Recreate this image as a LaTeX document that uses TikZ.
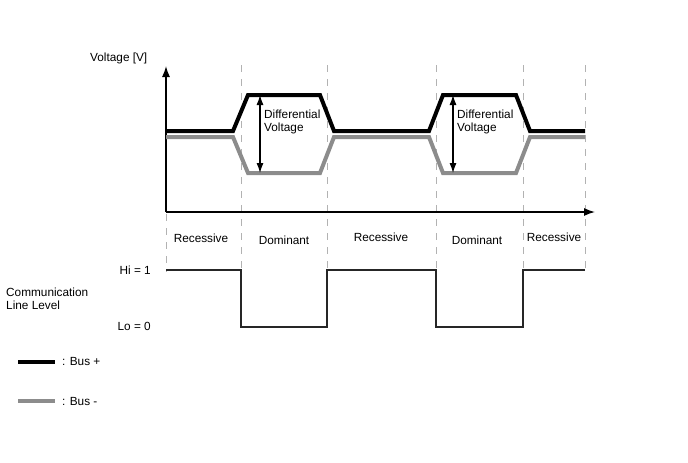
\documentclass[tikz,border=0pt]{standalone}
\usepackage{fontspec}
\setmainfont{Liberation Sans}
\usetikzlibrary{arrows.meta}
\begin{document}
\begin{tikzpicture}
[x=1pt,y=-1pt,
font=\fontsize{11.8}{13}\selectfont,
busplus/.style={line width=4pt,black},
busminus/.style={line width=4pt,black!45},
divider/.style={black!30,line width=0.9pt,dash pattern=on 7pt off 7pt},
levelline/.style={line width=1.3pt,black!85},
axis/.style={line width=1.3pt,-{Latex[length=11pt,width=8pt]}},
diffarrow/.style={line width=1.1pt,{Latex[length=10pt,width=7pt]}-{Latex[length=10pt,width=7pt]}},
lbl/.style={inner sep=0pt,align=left}
]
\useasboundingbox (0,0) rectangle (688,463);
\foreach \x in {241,327,436,523,585}
  \draw[divider] (\x,65) -- (\x,272);
\draw[divider] (166,214) -- (166,272);
\coordinate (origin) at (166,212);
\coordinate (ytip) at (166,66);
\coordinate (xtip) at (595,212);
\draw[axis] (origin) -- (ytip);
\draw[axis] (origin) -- (xtip);
\node[lbl,anchor=west] (vlabel) at (90,58) {Voltage [V]};
\draw[busminus] (166,137) -- (233,137) -- (248,173) -- (320,173) -- (334,137) -- (429,137) -- (443,173) -- (516,173) -- (530,137) -- (585,137);
\draw[busplus] (166,131) -- (233,131) -- (248,95) -- (320,95) -- (334,131) -- (429,131) -- (443,95) -- (516,95) -- (530,131) -- (585,131);
\coordinate (dvtopa) at (260,95);
\coordinate (dvbota) at (260,173);
\coordinate (dvtopb) at (453,95);
\coordinate (dvbotb) at (453,173);
\draw[diffarrow] (dvtopa) -- (dvbota);
\draw[diffarrow] (dvtopb) -- (dvbotb);
\node[lbl,anchor=north west] (dvtexta) at (264,110) {Differential\\Voltage};
\node[lbl,anchor=north west] (dvtextb) at (457,110) {Differential\\Voltage};
\node[lbl] (reca) at (201,238) {Recessive};
\node[lbl] (doma) at (284,240) {Dominant};
\node[lbl] (recb) at (381,237) {Recessive};
\node[lbl] (domb) at (477,240) {Dominant};
\node[lbl] (recc) at (554,237) {Recessive};
\node[lbl,anchor=east] (hi) at (151,270) {Hi = 1};
\node[lbl,anchor=east] (lo) at (151,326) {Lo = 0};
\node[lbl,anchor=west] (comm) at (6,299) {Communication\\Line Level};
\draw[levelline] (166,270) -- (241,270) -- (241,327) -- (327,327) -- (327,270) -- (436,270) -- (436,327) -- (523,327) -- (523,270) -- (585,270);
\coordinate (legplusa) at (18,362);
\coordinate (legplusb) at (55,362);
\coordinate (legminusa) at (18,401);
\coordinate (legminusb) at (55,401);
\draw[busplus] (legplusa) -- (legplusb);
\node[lbl,anchor=west] (legplus) at (62,361) {: Bus +};
\draw[busminus] (legminusa) -- (legminusb);
\node[lbl,anchor=west] (legminus) at (62,401) {: Bus -};
\end{tikzpicture}
\end{document}
